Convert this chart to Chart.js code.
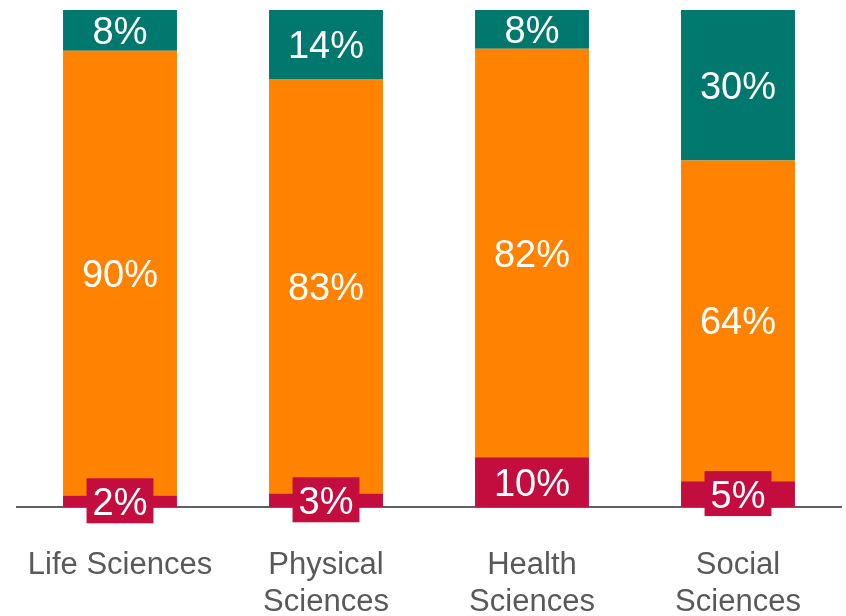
<!DOCTYPE html>
<html>
<head>
<meta charset="utf-8">
<script src="https://cdn.jsdelivr.net/npm/chart.js@4"></script>
<style>
  html, body { margin: 0; padding: 0; background: #fff; overflow: hidden; }
  #wrap { width: 846px; height: 616px; }
</style>
</head>
<body>
<div id="wrap"><canvas id="fieldChart"></canvas></div>
<script>
// categories and shares (percent of each bar)
const fields = [['Life Sciences'], ['Physical', 'Sciences'], ['Health', 'Sciences'], ['Social', 'Sciences']];
const bottomVals = [2.3, 2.7, 10, 5.2];
const middleVals = [89.5, 83.4, 82.2, 64.5];
const topVals = [8.2, 13.9, 7.8, 30.3];
// printed labels
const bottomText = ['2%', '3%', '10%', '5%'];
const middleText = ['90%', '83%', '82%', '64%'];
const topText = ['8%', '14%', '8%', '30%'];

const CRIMSON = '#C40D3F';
const ORANGE = '#FF8200';
const TEAL = '#00786E';

// draws the white percent labels; the bottom series gets a crimson box behind it
const segmentLabels = {
  id: 'segmentLabels',
  afterDatasetsDraw(chart) {
    const ctx = chart.ctx;
    ctx.save();
    ctx.font = '38px "Liberation Sans", Arial, sans-serif';
    ctx.textAlign = 'center';
    ctx.textBaseline = 'middle';
    chart.data.datasets.forEach((ds, i) => {
      const meta = chart.getDatasetMeta(i);
      meta.data.forEach((bar, j) => {
        const p = bar.getProps(['x', 'y', 'base'], true);
        const cy = (p.y + p.base) / 2;
        const txt = ds.texts[j];
        if (ds.boxed) {
          const w = ctx.measureText(txt).width + 12;
          ctx.fillStyle = ds.backgroundColor;
          ctx.fillRect(p.x - w / 2, cy - 23, w, 45);
        }
        ctx.fillStyle = '#ffffff';
        ctx.fillText(txt, p.x, cy + 3);
      });
    });
    ctx.restore();
  }
};

new Chart(document.getElementById('fieldChart').getContext('2d'), {
  type: 'bar',
  data: {
    labels: fields,
    datasets: [
      { data: bottomVals, texts: bottomText, boxed: true, backgroundColor: CRIMSON },
      { data: middleVals, texts: middleText, backgroundColor: ORANGE },
      { data: topVals, texts: topText, backgroundColor: TEAL },
    ],
  },
  options: {
    responsive: true,
    maintainAspectRatio: false,
    animation: false,
    layout: { padding: { left: 17, right: 5, top: 10, bottom: 0 } },
    datasets: {
      bar: { barPercentage: 0.553, categoryPercentage: 1, borderWidth: 0 }
    },
    plugins: {
      legend: { display: false },
      tooltip: { enabled: false },
    },
    scales: {
      x: {
        stacked: true,
        grid: { display: false, drawTicks: false },
        border: { display: true, color: '#5f6164', width: 2 },
        ticks: {
          color: '#595959',
          padding: 40,
          font: { family: '"Liberation Sans", Arial, sans-serif', size: 31, lineHeight: 1.2 },
        },
        afterFit(scale) {
          scale.height = 109;
          scale.paddingLeft = 0;
          scale.paddingRight = 0;
        },
      },
      y: {
        stacked: true,
        display: false,
        min: 0,
        max: 100,
      },
    },
  },
  plugins: [segmentLabels],
});
</script>
</body>
</html>
